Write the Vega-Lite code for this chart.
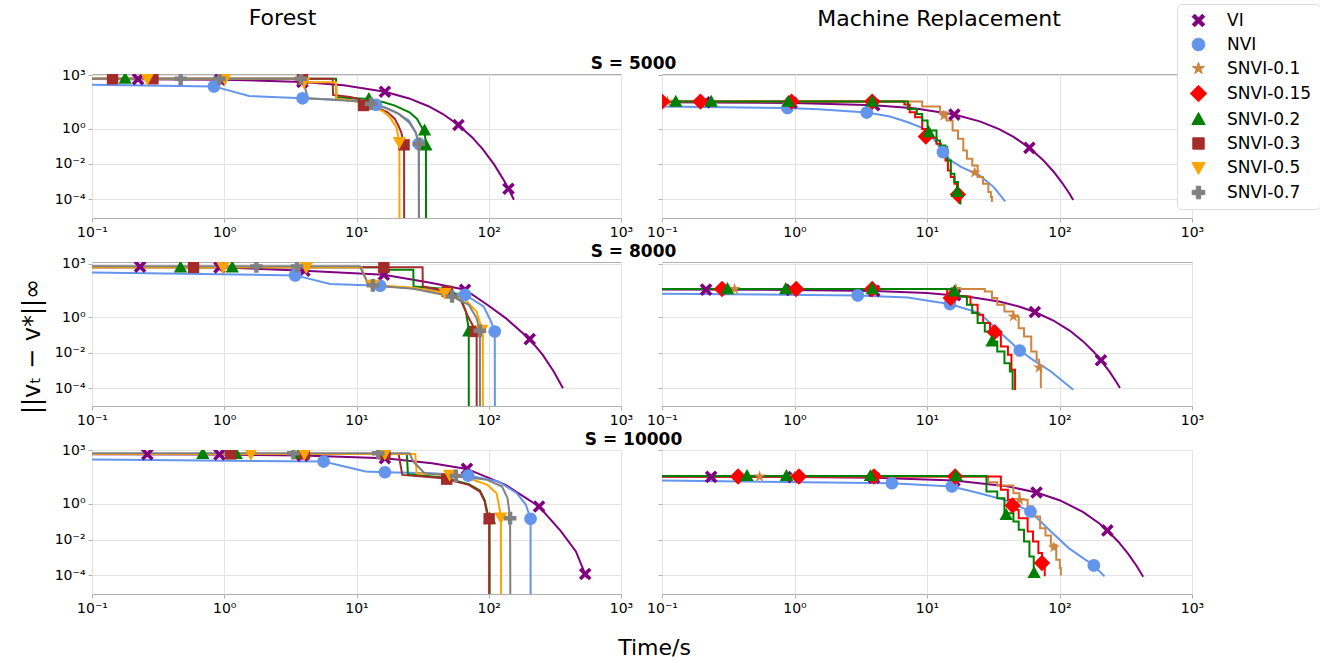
{
"$schema": "https://vega.github.io/schema/vega-lite/v6.json",
"padding": {"left": 19, "top": 3, "right": 0, "bottom": 3},
"config": {
  "font": "DejaVu Sans",
  "view": {"stroke": "#b0b0b0", "strokeWidth": 1},
  "axis": {"labelFont": "DejaVu Sans", "labelFontSize": 14, "labelColor": "#000000", "tickColor": "#b0b0b0", "tickSize": 4, "domain": false, "gridColor": "#e4e4e4", "gridWidth": 1, "labelFlush": false, "labelOverlap": false, "labelPadding": 3, "titleFont": "DejaVu Sans", "titleFontWeight": "normal", "titleColor": "#000000"},
  "legend": {"orient": "none", "legendX": 1085, "legendY": -70, "labelFont": "DejaVu Sans", "labelFontSize": 17, "labelColor": "#000000", "symbolSize": 160, "rowPadding": 6, "padding": 8, "strokeColor": "#dddddd", "fillColor": "#ffffff", "cornerRadius": 4, "symbolOffset": 5, "labelOffset": 20, "symbolStrokeWidth": 1},
  "title": {"font": "DejaVu Sans", "fontWeight": "normal", "color": "#000000"}
},
"datasets": {
"curves": [
{"panel":"F5","method":"VI","t":0.1,"v":631},{"panel":"F5","method":"VI","t":1,"v":575},{"panel":"F5","method":"VI","t":3.9,"v":427},{"panel":"F5","method":"VI","t":8,"v":282},{"panel":"F5","method":"VI","t":16.4,"v":120},{"panel":"F5","method":"VI","t":25,"v":50.1},{"panel":"F5","method":"VI","t":35,"v":18.2},{"panel":"F5","method":"VI","t":45,"v":6.61},{"panel":"F5","method":"VI","t":59,"v":1.58},{"panel":"F5","method":"VI","t":75,"v":0.316},{"panel":"F5","method":"VI","t":90,"v":0.0692},{"panel":"F5","method":"VI","t":110,"v":0.00912},{"panel":"F5","method":"VI","t":130,"v":0.0012},{"panel":"F5","method":"VI","t":141,"v":0.000398},{"panel":"F5","method":"VI","t":155,"v":0.0000955},
{"panel":"F5","method":"NVI","t":0.1,"v":302},{"panel":"F5","method":"NVI","t":0.836,"v":240},{"panel":"F5","method":"NVI","t":1.54,"v":69},{"panel":"F5","method":"NVI","t":3.91,"v":51},{"panel":"F5","method":"NVI","t":10,"v":38},{"panel":"F5","method":"NVI","t":15,"v":20},{"panel":"F5","method":"NVI","t":20,"v":8.3},{"panel":"F5","method":"NVI","t":25,"v":2.8},{"panel":"F5","method":"NVI","t":28,"v":0.63},{"panel":"F5","method":"NVI","t":29.6,"v":0.137},{"panel":"F5","method":"NVI","t":29.7,"v":1e-9},
{"panel":"F5","method":"SNVI-0.2","t":0.1,"v":650},{"panel":"F5","method":"SNVI-0.2","t":7.0,"v":650},{"panel":"F5","method":"SNVI-0.2","t":7.05,"v":58},{"panel":"F5","method":"SNVI-0.2","t":12.4,"v":46.9},{"panel":"F5","method":"SNVI-0.2","t":16.1,"v":30.5},{"panel":"F5","method":"SNVI-0.2","t":19.5,"v":19.8},{"panel":"F5","method":"SNVI-0.2","t":25.2,"v":8.3},{"panel":"F5","method":"SNVI-0.2","t":28.7,"v":3.5},{"panel":"F5","method":"SNVI-0.2","t":31.6,"v":0.96},{"panel":"F5","method":"SNVI-0.2","t":32.7,"v":0.77},{"panel":"F5","method":"SNVI-0.2","t":33.5,"v":0.11},{"panel":"F5","method":"SNVI-0.2","t":33.6,"v":1e-9},
{"panel":"F5","method":"SNVI-0.3","t":0.1,"v":650},{"panel":"F5","method":"SNVI-0.3","t":6.6,"v":650},{"panel":"F5","method":"SNVI-0.3","t":6.65,"v":79},{"panel":"F5","method":"SNVI-0.3","t":9,"v":60},{"panel":"F5","method":"SNVI-0.3","t":10.5,"v":45},{"panel":"F5","method":"SNVI-0.3","t":11.3,"v":20},{"panel":"F5","method":"SNVI-0.3","t":14.1,"v":15.9},{"panel":"F5","method":"SNVI-0.3","t":17.2,"v":8.3},{"panel":"F5","method":"SNVI-0.3","t":19.5,"v":3.5},{"panel":"F5","method":"SNVI-0.3","t":20.7,"v":1.48},{"panel":"F5","method":"SNVI-0.3","t":21.8,"v":0.62},{"panel":"F5","method":"SNVI-0.3","t":22.9,"v":0.12},{"panel":"F5","method":"SNVI-0.3","t":22.95,"v":1e-9},
{"panel":"F5","method":"SNVI-0.5","t":0.1,"v":650},{"panel":"F5","method":"SNVI-0.5","t":4.0,"v":650},{"panel":"F5","method":"SNVI-0.5","t":4.05,"v":407},{"panel":"F5","method":"SNVI-0.5","t":7.0,"v":407},{"panel":"F5","method":"SNVI-0.5","t":7.05,"v":46},{"panel":"F5","method":"SNVI-0.5","t":9,"v":40},{"panel":"F5","method":"SNVI-0.5","t":11,"v":28},{"panel":"F5","method":"SNVI-0.5","t":13,"v":18},{"panel":"F5","method":"SNVI-0.5","t":16,"v":9},{"panel":"F5","method":"SNVI-0.5","t":18,"v":4},{"panel":"F5","method":"SNVI-0.5","t":20,"v":1.2},{"panel":"F5","method":"SNVI-0.5","t":21.1,"v":0.17},{"panel":"F5","method":"SNVI-0.5","t":21.15,"v":1e-9},
{"panel":"F5","method":"SNVI-0.7","t":0.1,"v":650},{"panel":"F5","method":"SNVI-0.7","t":3.9,"v":650},{"panel":"F5","method":"SNVI-0.7","t":4.3,"v":51},{"panel":"F5","method":"SNVI-0.7","t":10,"v":35},{"panel":"F5","method":"SNVI-0.7","t":12.9,"v":25},{"panel":"F5","method":"SNVI-0.7","t":17,"v":14},{"panel":"F5","method":"SNVI-0.7","t":21,"v":6.5},{"panel":"F5","method":"SNVI-0.7","t":25,"v":2.2},{"panel":"F5","method":"SNVI-0.7","t":28,"v":0.6},{"panel":"F5","method":"SNVI-0.7","t":29.6,"v":0.137},{"panel":"F5","method":"SNVI-0.7","t":29.65,"v":1e-9},

{"panel":"M5","method":"VI","t":0.1,"v":30.6},{"panel":"M5","method":"VI","t":1,"v":28.0},{"panel":"M5","method":"VI","t":4,"v":20.7},{"panel":"M5","method":"VI","t":8,"v":13.9},{"panel":"M5","method":"VI","t":16.1,"v":6.17},{"panel":"M5","method":"VI","t":25,"v":2.53},{"panel":"M5","method":"VI","t":35,"v":0.928},{"panel":"M5","method":"VI","t":45,"v":0.341},{"panel":"M5","method":"VI","t":59.3,"v":0.0813},{"panel":"M5","method":"VI","t":75,"v":0.0169},{"panel":"M5","method":"VI","t":90,"v":0.00376},{"panel":"M5","method":"VI","t":105,"v":0.000837},{"panel":"M5","method":"VI","t":118,"v":0.000228},{"panel":"M5","method":"VI","t":127,"v":0.0000924},
{"panel":"M5","method":"NVI","t":0.1,"v":17.4},{"panel":"M5","method":"NVI","t":0.885,"v":14.6},{"panel":"M5","method":"NVI","t":1.52,"v":12.3},{"panel":"M5","method":"NVI","t":3.51,"v":7.97},{"panel":"M5","method":"NVI","t":5.26,"v":4.74},{"panel":"M5","method":"NVI","t":7.18,"v":2.27},{"panel":"M5","method":"NVI","t":9.2,"v":1.09},{"panel":"M5","method":"NVI","t":11.1,"v":0.298},{"panel":"M5","method":"NVI","t":13.2,"v":0.0464},{"panel":"M5","method":"NVI","t":15.1,"v":0.0158},{"panel":"M5","method":"NVI","t":18.2,"v":0.00663},{"panel":"M5","method":"NVI","t":24.9,"v":0.00225},{"panel":"M5","method":"NVI","t":31.9,"v":0.000495},{"panel":"M5","method":"NVI","t":38.9,"v":0.0000772},
{"panel":"M5","method":"SNVI-0.1","t":0.1,"v":33.2},{"panel":"M5","method":"SNVI-0.1","t":9.2,"v":17.4},{"panel":"M5","method":"SNVI-0.1","t":12.55,"v":8.32},{"panel":"M5","method":"SNVI-0.1","t":14.04,"v":2.82},{"panel":"M5","method":"SNVI-0.1","t":15.6,"v":0.772},{"panel":"M5","method":"SNVI-0.1","t":17.13,"v":0.262},{"panel":"M5","method":"SNVI-0.1","t":18.79,"v":0.0576},{"panel":"M5","method":"SNVI-0.1","t":20.0,"v":0.0196},{"panel":"M5","method":"SNVI-0.1","t":21.96,"v":0.00823},{"panel":"M5","method":"SNVI-0.1","t":24.1,"v":0.00181},{"panel":"M5","method":"SNVI-0.1","t":26.45,"v":0.000763},{"panel":"M5","method":"SNVI-0.1","t":29.04,"v":0.000259},{"panel":"M5","method":"SNVI-0.1","t":30.33,"v":0.000135},{"panel":"M5","method":"SNVI-0.1","t":30.9,"v":0.0000708},
{"panel":"M5","method":"SNVI-0.15","t":0.1,"v":33.2},{"panel":"M5","method":"SNVI-0.15","t":6.75,"v":22.5},{"panel":"M5","method":"SNVI-0.15","t":7.4,"v":8.32},{"panel":"M5","method":"SNVI-0.15","t":8.13,"v":4.35},{"panel":"M5","method":"SNVI-0.15","t":9.2,"v":0.958},{"panel":"M5","method":"SNVI-0.15","t":10.42,"v":0.298},{"panel":"M5","method":"SNVI-0.15","t":11.8,"v":0.137},{"panel":"M5","method":"SNVI-0.15","t":12.71,"v":0.0576},{"panel":"M5","method":"SNVI-0.15","t":13.78,"v":0.0157},{"panel":"M5","method":"SNVI-0.15","t":14.39,"v":0.0043},{"panel":"M5","method":"SNVI-0.15","t":15.12,"v":0.00181},{"panel":"M5","method":"SNVI-0.15","t":16.1,"v":0.000763},{"panel":"M5","method":"SNVI-0.15","t":16.81,"v":0.000259},{"panel":"M5","method":"SNVI-0.15","t":17.45,"v":0.000057},
{"panel":"M5","method":"SNVI-0.2","t":0.1,"v":33.2},{"panel":"M5","method":"SNVI-0.2","t":7.18,"v":12.8},{"panel":"M5","method":"SNVI-0.2","t":8.38,"v":6.7},{"panel":"M5","method":"SNVI-0.2","t":9.2,"v":2.82},{"panel":"M5","method":"SNVI-0.2","t":10.1,"v":0.772},{"panel":"M5","method":"SNVI-0.2","t":11.8,"v":0.211},{"panel":"M5","method":"SNVI-0.2","t":12.55,"v":0.11},{"panel":"M5","method":"SNVI-0.2","t":13.78,"v":0.0888},{"panel":"M5","method":"SNVI-0.2","t":14.21,"v":0.0157},{"panel":"M5","method":"SNVI-0.2","t":15.12,"v":0.00279},{"panel":"M5","method":"SNVI-0.2","t":16.1,"v":0.000947},{"panel":"M5","method":"SNVI-0.2","t":17.13,"v":0.000321},{"panel":"M5","method":"SNVI-0.2","t":17.89,"v":0.000052},

{"panel":"F8","method":"VI","t":0.1,"v":685},{"panel":"F8","method":"VI","t":0.92,"v":629},{"panel":"F8","method":"VI","t":4.04,"v":408},{"panel":"F8","method":"VI","t":16.1,"v":243},{"panel":"F8","method":"VI","t":37.2,"v":82.3},{"panel":"F8","method":"VI","t":66.2,"v":34.7},{"panel":"F8","method":"VI","t":97.5,"v":4.95},{"panel":"F8","method":"VI","t":134.3,"v":0.878},{"panel":"F8","method":"VI","t":204,"v":0.0576},{"panel":"F8","method":"VI","t":255.9,"v":0.00755},{"panel":"F8","method":"VI","t":310,"v":0.000869},{"panel":"F8","method":"VI","t":364,"v":0.0001},
{"panel":"F8","method":"NVI","t":0.1,"v":328},{"panel":"F8","method":"NVI","t":3.44,"v":222},{"panel":"F8","method":"NVI","t":6.34,"v":72.3},{"panel":"F8","method":"NVI","t":15.1,"v":58.2},{"panel":"F8","method":"NVI","t":37.2,"v":34.7},{"panel":"F8","method":"NVI","t":66.2,"v":18.1},{"panel":"F8","method":"NVI","t":91.4,"v":3.99},{"panel":"F8","method":"NVI","t":104,"v":0.57},{"panel":"F8","method":"NVI","t":111,"v":0.156},{"panel":"F8","method":"NVI","t":111.5,"v":1e-9},
{"panel":"F8","method":"SNVI-0.2","t":0.1,"v":629},{"panel":"F8","method":"SNVI-0.2","t":15.1,"v":629},{"panel":"F8","method":"SNVI-0.2","t":15.2,"v":464},{"panel":"F8","method":"SNVI-0.2","t":26.9,"v":464},{"panel":"F8","method":"SNVI-0.2","t":27.0,"v":53.4},{"panel":"F8","method":"SNVI-0.2","t":45.1,"v":39.4},{"panel":"F8","method":"SNVI-0.2","t":54.6,"v":22.5},{"panel":"F8","method":"SNVI-0.2","t":62.1,"v":9.48},{"panel":"F8","method":"SNVI-0.2","t":67.1,"v":2.08},{"panel":"F8","method":"SNVI-0.2","t":69.8,"v":0.37},{"panel":"F8","method":"SNVI-0.2","t":70.6,"v":0.156},{"panel":"F8","method":"SNVI-0.2","t":70.7,"v":1e-9},
{"panel":"F8","method":"SNVI-0.3","t":0.1,"v":629},{"panel":"F8","method":"SNVI-0.3","t":31.6,"v":629},{"panel":"F8","method":"SNVI-0.3","t":31.7,"v":53.4},{"panel":"F8","method":"SNVI-0.3","t":48.6,"v":27.9},{"panel":"F8","method":"SNVI-0.3","t":62.1,"v":7.6},{"panel":"F8","method":"SNVI-0.3","t":70.6,"v":0.88},{"panel":"F8","method":"SNVI-0.3","t":77.7,"v":0.24},{"panel":"F8","method":"SNVI-0.3","t":81.0,"v":0.156},{"panel":"F8","method":"SNVI-0.3","t":81.1,"v":1e-9},
{"panel":"F8","method":"SNVI-0.5","t":0.1,"v":629},{"panel":"F8","method":"SNVI-0.5","t":10.9,"v":629},{"panel":"F8","method":"SNVI-0.5","t":12.2,"v":66},{"panel":"F8","method":"SNVI-0.5","t":26.9,"v":45},{"panel":"F8","method":"SNVI-0.5","t":46.6,"v":22.5},{"panel":"F8","method":"SNVI-0.5","t":66.2,"v":9.5},{"panel":"F8","method":"SNVI-0.5","t":80.8,"v":2.09},{"panel":"F8","method":"SNVI-0.5","t":86.8,"v":0.37},{"panel":"F8","method":"SNVI-0.5","t":88.5,"v":0.193},{"panel":"F8","method":"SNVI-0.5","t":90.2,"v":0.15},{"panel":"F8","method":"SNVI-0.5","t":90.3,"v":1e-9},
{"panel":"F8","method":"SNVI-0.7","t":0.1,"v":715},{"panel":"F8","method":"SNVI-0.7","t":10.6,"v":715},{"panel":"F8","method":"SNVI-0.7","t":12.4,"v":60.8},{"panel":"F8","method":"SNVI-0.7","t":26.9,"v":39.5},{"panel":"F8","method":"SNVI-0.7","t":52.8,"v":14.6},{"panel":"F8","method":"SNVI-0.7","t":70.6,"v":4.95},{"panel":"F8","method":"SNVI-0.7","t":80.8,"v":0.88},{"panel":"F8","method":"SNVI-0.7","t":85.7,"v":0.17},{"panel":"F8","method":"SNVI-0.7","t":86.0,"v":1e-9},

{"panel":"M8","method":"VI","t":0.1,"v":35.3},{"panel":"M8","method":"VI","t":1,"v":33.9},{"panel":"M8","method":"VI","t":4,"v":29.7},{"panel":"M8","method":"VI","t":10,"v":22.7},{"panel":"M8","method":"VI","t":20,"v":14.6},{"panel":"M8","method":"VI","t":35,"v":7.46},{"panel":"M8","method":"VI","t":50,"v":3.83},{"panel":"M8","method":"VI","t":65.2,"v":1.94},{"panel":"M8","method":"VI","t":90,"v":0.643},{"panel":"M8","method":"VI","t":120,"v":0.169},{"panel":"M8","method":"VI","t":150,"v":0.0444},{"panel":"M8","method":"VI","t":180,"v":0.0117},{"panel":"M8","method":"VI","t":205.6,"v":0.00373},{"panel":"M8","method":"VI","t":240,"v":0.000805},{"panel":"M8","method":"VI","t":270,"v":0.000211},{"panel":"M8","method":"VI","t":286,"v":0.000104},
{"panel":"M8","method":"NVI","t":0.1,"v":20.6},{"panel":"M8","method":"NVI","t":3.0,"v":16.6},{"panel":"M8","method":"NVI","t":7.18,"v":12.8},{"panel":"M8","method":"NVI","t":11.1,"v":7.63},{"panel":"M8","method":"NVI","t":14.9,"v":5.4},{"panel":"M8","method":"NVI","t":24.9,"v":1.68},{"panel":"M8","method":"NVI","t":33.9,"v":0.193},{"panel":"M8","method":"NVI","t":50.1,"v":0.0132},{"panel":"M8","method":"NVI","t":63.1,"v":0.00394},{"panel":"M8","method":"NVI","t":86.1,"v":0.00087},{"panel":"M8","method":"NVI","t":127,"v":0.000081},
{"panel":"M8","method":"SNVI-0.1","t":0.1,"v":37.8},{"panel":"M8","method":"SNVI-0.1","t":27.3,"v":27.9},{"panel":"M8","method":"SNVI-0.1","t":30.9,"v":11.8},{"panel":"M8","method":"SNVI-0.1","t":33.9,"v":4.95},{"panel":"M8","method":"SNVI-0.1","t":38.4,"v":2.09},{"panel":"M8","method":"SNVI-0.1","t":44.9,"v":1.09},{"panel":"M8","method":"SNVI-0.1","t":49.2,"v":0.24},{"panel":"M8","method":"SNVI-0.1","t":54.0,"v":0.0814},{"panel":"M8","method":"SNVI-0.1","t":61.2,"v":0.0116},{"panel":"M8","method":"SNVI-0.1","t":67.2,"v":0.00394},{"panel":"M8","method":"SNVI-0.1","t":70.2,"v":0.00146},{"panel":"M8","method":"SNVI-0.1","t":72.3,"v":0.0001},
{"panel":"M8","method":"SNVI-0.15","t":0.1,"v":37.8},{"panel":"M8","method":"SNVI-0.15","t":14.2,"v":14.6},{"panel":"M8","method":"SNVI-0.15","t":21.3,"v":4.95},{"panel":"M8","method":"SNVI-0.15","t":24.1,"v":1.35},{"panel":"M8","method":"SNVI-0.15","t":26.5,"v":0.459},{"panel":"M8","method":"SNVI-0.15","t":29.9,"v":0.193},{"panel":"M8","method":"SNVI-0.15","t":33.9,"v":0.101},{"panel":"M8","method":"SNVI-0.15","t":36.1,"v":0.0222},{"panel":"M8","method":"SNVI-0.15","t":40.8,"v":0.00755},{"panel":"M8","method":"SNVI-0.15","t":43.4,"v":0.00108},{"panel":"M8","method":"SNVI-0.15","t":46.2,"v":0.0000805},
{"panel":"M8","method":"SNVI-0.2","t":0.1,"v":37.8},{"panel":"M8","method":"SNVI-0.2","t":17.1,"v":14.6},{"panel":"M8","method":"SNVI-0.2","t":20.0,"v":4.95},{"panel":"M8","method":"SNVI-0.2","t":21.96,"v":1.68},{"panel":"M8","method":"SNVI-0.2","t":24.1,"v":0.459},{"panel":"M8","method":"SNVI-0.2","t":27.3,"v":0.156},{"panel":"M8","method":"SNVI-0.2","t":30.9,"v":0.0426},{"panel":"M8","method":"SNVI-0.2","t":33.9,"v":0.0116},{"panel":"M8","method":"SNVI-0.2","t":38.4,"v":0.00256},{"panel":"M8","method":"SNVI-0.2","t":42.2,"v":0.00087},{"panel":"M8","method":"SNVI-0.2","t":44.3,"v":0.0000805},

{"panel":"F10","method":"VI","t":0.1,"v":592},{"panel":"F10","method":"VI","t":0.92,"v":580},{"panel":"F10","method":"VI","t":3.91,"v":499},{"panel":"F10","method":"VI","t":16.4,"v":354},{"panel":"F10","method":"VI","t":37.2,"v":186},{"panel":"F10","method":"VI","t":68.4,"v":89.8},{"panel":"F10","method":"VI","t":134,"v":11.5},{"panel":"F10","method":"VI","t":240,"v":0.71},{"panel":"F10","method":"VI","t":352,"v":0.0286},{"panel":"F10","method":"VI","t":456,"v":0.00219},{"panel":"F10","method":"VI","t":536,"v":0.000119},{"panel":"F10","method":"VI","t":553,"v":0.000071},
{"panel":"F10","method":"NVI","t":0.1,"v":298},{"panel":"F10","method":"NVI","t":5.64,"v":231},{"panel":"F10","method":"NVI","t":11.7,"v":63.8},{"panel":"F10","method":"NVI","t":16.4,"v":58.5},{"panel":"F10","method":"NVI","t":37.2,"v":51.5},{"panel":"F10","method":"NVI","t":69.8,"v":38.1},{"panel":"F10","method":"NVI","t":118,"v":17.6},{"panel":"F10","method":"NVI","t":163,"v":3.94},{"panel":"F10","method":"NVI","t":191,"v":0.879},{"panel":"F10","method":"NVI","t":207,"v":0.146},{"panel":"F10","method":"NVI","t":207.5,"v":1e-9},
{"panel":"F10","method":"SNVI-0.2","t":0.1,"v":620},{"panel":"F10","method":"SNVI-0.2","t":24,"v":620},{"panel":"F10","method":"SNVI-0.2","t":24.5,"v":45},{"panel":"F10","method":"SNVI-0.2","t":45.1,"v":30},{"panel":"F10","method":"SNVI-0.2","t":70.6,"v":12.5},{"panel":"F10","method":"SNVI-0.2","t":85.7,"v":5.5},{"panel":"F10","method":"SNVI-0.2","t":93.2,"v":1.6},{"panel":"F10","method":"SNVI-0.2","t":98.5,"v":0.25},{"panel":"F10","method":"SNVI-0.2","t":101.5,"v":0.146},{"panel":"F10","method":"SNVI-0.2","t":101.6,"v":1e-9},
{"panel":"F10","method":"SNVI-0.3","t":0.1,"v":620},{"panel":"F10","method":"SNVI-0.3","t":20.8,"v":620},{"panel":"F10","method":"SNVI-0.3","t":22.2,"v":41.6},{"panel":"F10","method":"SNVI-0.3","t":45.1,"v":27.1},{"panel":"F10","method":"SNVI-0.3","t":70.6,"v":11.5},{"panel":"F10","method":"SNVI-0.3","t":85.7,"v":4.88},{"panel":"F10","method":"SNVI-0.3","t":93.2,"v":1.35},{"panel":"F10","method":"SNVI-0.3","t":97.5,"v":0.243},{"panel":"F10","method":"SNVI-0.3","t":100.7,"v":0.146},{"panel":"F10","method":"SNVI-0.3","t":100.8,"v":1e-9},
{"panel":"F10","method":"SNVI-0.5","t":0.1,"v":620},{"panel":"F10","method":"SNVI-0.5","t":27.8,"v":620},{"panel":"F10","method":"SNVI-0.5","t":28.5,"v":51.5},{"panel":"F10","method":"SNVI-0.5","t":50.6,"v":41.6},{"panel":"F10","method":"SNVI-0.5","t":70.6,"v":27.1},{"panel":"F10","method":"SNVI-0.5","t":97.5,"v":11.5},{"panel":"F10","method":"SNVI-0.5","t":114.6,"v":3.94},{"panel":"F10","method":"SNVI-0.5","t":120.5,"v":0.573},{"panel":"F10","method":"SNVI-0.5","t":123.6,"v":0.173},{"panel":"F10","method":"SNVI-0.5","t":124.2,"v":1e-9},
{"panel":"F10","method":"SNVI-0.7","t":0.1,"v":671},{"panel":"F10","method":"SNVI-0.7","t":25.2,"v":671},{"panel":"F10","method":"SNVI-0.7","t":26.9,"v":231},{"panel":"F10","method":"SNVI-0.7","t":32.7,"v":51.5},{"panel":"F10","method":"SNVI-0.7","t":56.4,"v":36.5},{"panel":"F10","method":"SNVI-0.7","t":97.5,"v":21.9},{"panel":"F10","method":"SNVI-0.7","t":126,"v":9.3},{"panel":"F10","method":"SNVI-0.7","t":138.6,"v":2.07},{"panel":"F10","method":"SNVI-0.7","t":143,"v":0.373},{"panel":"F10","method":"SNVI-0.7","t":145,"v":0.158},{"panel":"F10","method":"SNVI-0.7","t":146,"v":1e-9},

{"panel":"M10","method":"VI","t":0.1,"v":32.3},{"panel":"M10","method":"VI","t":1,"v":31.4},{"panel":"M10","method":"VI","t":4,"v":28.7},{"panel":"M10","method":"VI","t":16.1,"v":19.95},{"panel":"M10","method":"VI","t":40,"v":9.73},{"panel":"M10","method":"VI","t":67.1,"v":4.31},{"panel":"M10","method":"VI","t":100,"v":1.6},{"panel":"M10","method":"VI","t":150,"v":0.357},{"panel":"M10","method":"VI","t":200,"v":0.0794},{"panel":"M10","method":"VI","t":229.6,"v":0.0326},{"panel":"M10","method":"VI","t":280,"v":0.00718},{"panel":"M10","method":"VI","t":330,"v":0.0016},{"panel":"M10","method":"VI","t":380,"v":0.000356},{"panel":"M10","method":"VI","t":428,"v":0.000084},
{"panel":"M10","method":"NVI","t":0.1,"v":20.1},{"panel":"M10","method":"NVI","t":5.43,"v":14.2},{"panel":"M10","method":"NVI","t":15.4,"v":9.28},{"panel":"M10","method":"NVI","t":24.9,"v":3.94},{"panel":"M10","method":"NVI","t":38.4,"v":1.67},{"panel":"M10","method":"NVI","t":60.4,"v":0.373},{"panel":"M10","method":"NVI","t":86.1,"v":0.0286},{"panel":"M10","method":"NVI","t":117.4,"v":0.00335},{"panel":"M10","method":"NVI","t":181.5,"v":0.00036},{"panel":"M10","method":"NVI","t":218.6,"v":0.000088},
{"panel":"M10","method":"SNVI-0.1","t":0.1,"v":33.6},{"panel":"M10","method":"SNVI-0.1","t":29.0,"v":16.2},{"panel":"M10","method":"SNVI-0.1","t":33.9,"v":10.5},{"panel":"M10","method":"SNVI-0.1","t":44.9,"v":3.94},{"panel":"M10","method":"SNVI-0.1","t":49.9,"v":1.67},{"panel":"M10","method":"SNVI-0.1","t":57.5,"v":0.71},{"panel":"M10","method":"SNVI-0.1","t":63.1,"v":0.196},{"panel":"M10","method":"SNVI-0.1","t":71.4,"v":0.0438},{"panel":"M10","method":"SNVI-0.1","t":78.4,"v":0.0171},{"panel":"M10","method":"SNVI-0.1","t":86.1,"v":0.00515},{"panel":"M10","method":"SNVI-0.1","t":94.5,"v":0.000748},{"panel":"M10","method":"SNVI-0.1","t":100.6,"v":0.000256},{"panel":"M10","method":"SNVI-0.1","t":102.4,"v":0.0001},
{"panel":"M10","method":"SNVI-0.15","t":0.1,"v":33.6},{"panel":"M10","method":"SNVI-0.15","t":36.1,"v":6.04},{"panel":"M10","method":"SNVI-0.15","t":40.8,"v":1.67},{"panel":"M10","method":"SNVI-0.15","t":44.9,"v":0.463},{"panel":"M10","method":"SNVI-0.15","t":49.2,"v":0.158},{"panel":"M10","method":"SNVI-0.15","t":57.5,"v":0.0286},{"panel":"M10","method":"SNVI-0.15","t":63.1,"v":0.0079},{"panel":"M10","method":"SNVI-0.15","t":69.3,"v":0.00177},{"panel":"M10","method":"SNVI-0.15","t":73.8,"v":0.000394},{"panel":"M10","method":"SNVI-0.15","t":77.4,"v":0.000088},
{"panel":"M10","method":"SNVI-0.2","t":0.1,"v":36},{"panel":"M10","method":"SNVI-0.2","t":28.1,"v":4.88},{"panel":"M10","method":"SNVI-0.2","t":33.9,"v":2.07},{"panel":"M10","method":"SNVI-0.2","t":38.4,"v":0.301},{"panel":"M10","method":"SNVI-0.2","t":44.9,"v":0.103},{"panel":"M10","method":"SNVI-0.2","t":49.2,"v":0.0354},{"panel":"M10","method":"SNVI-0.2","t":54.0,"v":0.0079},{"panel":"M10","method":"SNVI-0.2","t":59.3,"v":0.00115},{"panel":"M10","method":"SNVI-0.2","t":63.9,"v":0.000088}
],
"markers": [
{"panel":"F5","method":"VI","t":0.223,"v":617},{"panel":"F5","method":"VI","t":0.93,"v":575},{"panel":"F5","method":"VI","t":3.9,"v":427},{"panel":"F5","method":"VI","t":16.4,"v":120},{"panel":"F5","method":"VI","t":59,"v":1.58},{"panel":"F5","method":"VI","t":141,"v":0.000398},
{"panel":"F5","method":"NVI","t":0.836,"v":240},{"panel":"F5","method":"NVI","t":3.91,"v":51},{"panel":"F5","method":"NVI","t":14,"v":22},{"panel":"F5","method":"NVI","t":29.6,"v":0.137},
{"panel":"F5","method":"SNVI-0.2","t":0.178,"v":650},{"panel":"F5","method":"SNVI-0.2","t":12.4,"v":46.9},{"panel":"F5","method":"SNVI-0.2","t":32.7,"v":0.77},{"panel":"F5","method":"SNVI-0.2","t":33.5,"v":0.11},
{"panel":"F5","method":"SNVI-0.3","t":0.143,"v":650},{"panel":"F5","method":"SNVI-0.3","t":0.289,"v":650},{"panel":"F5","method":"SNVI-0.3","t":3.9,"v":650},{"panel":"F5","method":"SNVI-0.3","t":11.3,"v":20},{"panel":"F5","method":"SNVI-0.3","t":22.9,"v":0.12},
{"panel":"F5","method":"SNVI-0.5","t":0.262,"v":650},{"panel":"F5","method":"SNVI-0.5","t":1.01,"v":650},{"panel":"F5","method":"SNVI-0.5","t":4.0,"v":407},{"panel":"F5","method":"SNVI-0.5","t":21.1,"v":0.17},
{"panel":"F5","method":"SNVI-0.7","t":0.468,"v":650},{"panel":"F5","method":"SNVI-0.7","t":0.92,"v":650},{"panel":"F5","method":"SNVI-0.7","t":3.8,"v":650},{"panel":"F5","method":"SNVI-0.7","t":12.9,"v":25},{"panel":"F5","method":"SNVI-0.7","t":29.6,"v":0.137},

{"panel":"M5","method":"VI","t":0.21,"v":30.3},{"panel":"M5","method":"VI","t":0.95,"v":28.1},{"panel":"M5","method":"VI","t":4,"v":20.7},{"panel":"M5","method":"VI","t":16.1,"v":6.17},{"panel":"M5","method":"VI","t":59.3,"v":0.0813},
{"panel":"M5","method":"NVI","t":0.885,"v":14.6},{"panel":"M5","method":"NVI","t":3.51,"v":7.97},{"panel":"M5","method":"NVI","t":13.2,"v":0.0464},
{"panel":"M5","method":"SNVI-0.1","t":0.11,"v":33.2},{"panel":"M5","method":"SNVI-0.1","t":13.4,"v":5.4},{"panel":"M5","method":"SNVI-0.1","t":22.9,"v":0.0033},
{"panel":"M5","method":"SNVI-0.15","t":0.1,"v":33.2},{"panel":"M5","method":"SNVI-0.15","t":0.195,"v":33.2},{"panel":"M5","method":"SNVI-0.15","t":0.95,"v":33.2},{"panel":"M5","method":"SNVI-0.15","t":3.86,"v":33.2},{"panel":"M5","method":"SNVI-0.15","t":9.8,"v":0.354},{"panel":"M5","method":"SNVI-0.15","t":17.1,"v":0.00019},
{"panel":"M5","method":"SNVI-0.2","t":0.127,"v":33.2},{"panel":"M5","method":"SNVI-0.2","t":0.235,"v":33.2},{"panel":"M5","method":"SNVI-0.2","t":0.9,"v":33.2},{"panel":"M5","method":"SNVI-0.2","t":3.86,"v":33.2},{"panel":"M5","method":"SNVI-0.2","t":10.29,"v":0.62},{"panel":"M5","method":"SNVI-0.2","t":16.91,"v":0.00026},

{"panel":"F8","method":"VI","t":0.231,"v":685},{"panel":"F8","method":"VI","t":0.92,"v":629},{"panel":"F8","method":"VI","t":4.04,"v":408},{"panel":"F8","method":"VI","t":16.1,"v":243},{"panel":"F8","method":"VI","t":66.2,"v":34.7},{"panel":"F8","method":"VI","t":204,"v":0.0576},
{"panel":"F8","method":"NVI","t":3.44,"v":222},{"panel":"F8","method":"NVI","t":15.1,"v":58.2},{"panel":"F8","method":"NVI","t":66.2,"v":18.1},{"panel":"F8","method":"NVI","t":111,"v":0.156},
{"panel":"F8","method":"SNVI-0.2","t":0.467,"v":629},{"panel":"F8","method":"SNVI-0.2","t":1.15,"v":629},{"panel":"F8","method":"SNVI-0.2","t":70.6,"v":0.156},
{"panel":"F8","method":"SNVI-0.3","t":0.586,"v":629},{"panel":"F8","method":"SNVI-0.3","t":16.1,"v":629},{"panel":"F8","method":"SNVI-0.3","t":48.6,"v":27.9},{"panel":"F8","method":"SNVI-0.3","t":79.2,"v":0.156},
{"panel":"F8","method":"SNVI-0.5","t":0.98,"v":629},{"panel":"F8","method":"SNVI-0.5","t":4.17,"v":629},{"panel":"F8","method":"SNVI-0.5","t":13.3,"v":66.3},{"panel":"F8","method":"SNVI-0.5","t":46.6,"v":22.5},{"panel":"F8","method":"SNVI-0.5","t":88.5,"v":0.193},
{"panel":"F8","method":"SNVI-0.7","t":1.75,"v":715},{"panel":"F8","method":"SNVI-0.7","t":3.55,"v":715},{"panel":"F8","method":"SNVI-0.7","t":13.3,"v":60.8},{"panel":"F8","method":"SNVI-0.7","t":52.8,"v":14.6},{"panel":"F8","method":"SNVI-0.7","t":85.7,"v":0.17},

{"panel":"M8","method":"VI","t":0.215,"v":35.1},{"panel":"M8","method":"VI","t":0.95,"v":33.9},{"panel":"M8","method":"VI","t":4,"v":29.7},{"panel":"M8","method":"VI","t":16.3,"v":17.2},{"panel":"M8","method":"VI","t":65.2,"v":1.94},{"panel":"M8","method":"VI","t":205.6,"v":0.00373},
{"panel":"M8","method":"NVI","t":3.0,"v":16.6},{"panel":"M8","method":"NVI","t":14.9,"v":5.4},{"panel":"M8","method":"NVI","t":50.1,"v":0.0132},
{"panel":"M8","method":"SNVI-0.1","t":0.353,"v":37.8},{"panel":"M8","method":"SNVI-0.1","t":1.0,"v":37.8},{"panel":"M8","method":"SNVI-0.1","t":4.0,"v":37.8},{"panel":"M8","method":"SNVI-0.1","t":16.5,"v":37.8},{"panel":"M8","method":"SNVI-0.1","t":44.9,"v":1.09},{"panel":"M8","method":"SNVI-0.1","t":70.1,"v":0.00146},
{"panel":"M8","method":"SNVI-0.15","t":0.284,"v":37.8},{"panel":"M8","method":"SNVI-0.15","t":1.03,"v":37.8},{"panel":"M8","method":"SNVI-0.15","t":3.86,"v":37.8},{"panel":"M8","method":"SNVI-0.15","t":15.1,"v":11.8},{"panel":"M8","method":"SNVI-0.15","t":32.4,"v":0.143},
{"panel":"M8","method":"SNVI-0.2","t":0.312,"v":37.8},{"panel":"M8","method":"SNVI-0.2","t":0.858,"v":37.8},{"panel":"M8","method":"SNVI-0.2","t":3.86,"v":37.8},{"panel":"M8","method":"SNVI-0.2","t":16.1,"v":27.9},{"panel":"M8","method":"SNVI-0.2","t":30.9,"v":0.0426},

{"panel":"F10","method":"VI","t":0.262,"v":592},{"panel":"F10","method":"VI","t":0.92,"v":580},{"panel":"F10","method":"VI","t":3.91,"v":499},{"panel":"F10","method":"VI","t":16.4,"v":354},{"panel":"F10","method":"VI","t":68.4,"v":89.8},{"panel":"F10","method":"VI","t":240,"v":0.71},{"panel":"F10","method":"VI","t":536,"v":0.000119},
{"panel":"F10","method":"NVI","t":5.64,"v":231},{"panel":"F10","method":"NVI","t":16.4,"v":58.5},{"panel":"F10","method":"NVI","t":69.8,"v":38.1},{"panel":"F10","method":"NVI","t":207,"v":0.146},
{"panel":"F10","method":"SNVI-0.2","t":0.689,"v":620},{"panel":"F10","method":"SNVI-0.2","t":1.23,"v":620},{"panel":"F10","method":"SNVI-0.2","t":3.67,"v":620},{"panel":"F10","method":"SNVI-0.2","t":16.1,"v":620},{"panel":"F10","method":"SNVI-0.2","t":101.5,"v":0.146},
{"panel":"F10","method":"SNVI-0.3","t":1.12,"v":620},{"panel":"F10","method":"SNVI-0.3","t":4.04,"v":620},{"panel":"F10","method":"SNVI-0.3","t":16.4,"v":620},{"panel":"F10","method":"SNVI-0.3","t":48.1,"v":24},{"panel":"F10","method":"SNVI-0.3","t":100.7,"v":0.146},
{"panel":"F10","method":"SNVI-0.5","t":1.59,"v":620},{"panel":"F10","method":"SNVI-0.5","t":4.04,"v":620},{"panel":"F10","method":"SNVI-0.5","t":16.4,"v":640},{"panel":"F10","method":"SNVI-0.5","t":50.6,"v":41.6},{"panel":"F10","method":"SNVI-0.5","t":123.6,"v":0.173},
{"panel":"F10","method":"SNVI-0.7","t":3.33,"v":671},{"panel":"F10","method":"SNVI-0.7","t":14.6,"v":671},{"panel":"F10","method":"SNVI-0.7","t":56.4,"v":36.5},{"panel":"F10","method":"SNVI-0.7","t":145,"v":0.158},

{"panel":"M10","method":"VI","t":0.235,"v":32.2},{"panel":"M10","method":"VI","t":0.98,"v":31.4},{"panel":"M10","method":"VI","t":3.98,"v":28.7},{"panel":"M10","method":"VI","t":16.1,"v":19.95},{"panel":"M10","method":"VI","t":67.1,"v":4.31},{"panel":"M10","method":"VI","t":229.6,"v":0.0326},
{"panel":"M10","method":"NVI","t":5.43,"v":14.2},{"panel":"M10","method":"NVI","t":15.4,"v":9.28},{"panel":"M10","method":"NVI","t":60.4,"v":0.373},{"panel":"M10","method":"NVI","t":181.5,"v":0.00036},
{"panel":"M10","method":"SNVI-0.1","t":0.545,"v":33.6},{"panel":"M10","method":"SNVI-0.1","t":1.0,"v":33.6},{"panel":"M10","method":"SNVI-0.1","t":4.0,"v":33.6},{"panel":"M10","method":"SNVI-0.1","t":16.3,"v":33.6},{"panel":"M10","method":"SNVI-0.1","t":49.9,"v":1.67},{"panel":"M10","method":"SNVI-0.1","t":90.6,"v":0.00366},
{"panel":"M10","method":"SNVI-0.15","t":0.375,"v":33.6},{"panel":"M10","method":"SNVI-0.15","t":1.08,"v":33.6},{"panel":"M10","method":"SNVI-0.15","t":3.98,"v":33.6},{"panel":"M10","method":"SNVI-0.15","t":16.3,"v":33.6},{"panel":"M10","method":"SNVI-0.15","t":44.3,"v":0.807},{"panel":"M10","method":"SNVI-0.15","t":73.8,"v":0.000488},
{"panel":"M10","method":"SNVI-0.2","t":0.438,"v":36},{"panel":"M10","method":"SNVI-0.2","t":0.869,"v":36},{"panel":"M10","method":"SNVI-0.2","t":3.74,"v":36},{"panel":"M10","method":"SNVI-0.2","t":16.6,"v":36},{"panel":"M10","method":"SNVI-0.2","t":39.6,"v":0.243},{"panel":"M10","method":"SNVI-0.2","t":64.3,"v":0.000135}
]
},
"columns": 2,
"spacing": {"row": 44, "column": 41},
"bounds": "flush",
"concat": [
{
 "width": 529, "height": 144,
 "title": {"text": "Forest", "fontSize": 22, "frame": "group", "anchor": "middle", "dx": -74, "offset": 24},
 "encoding": {
  "x": {"field": "t", "type": "quantitative", "scale": {"type": "log", "domain": [0.1, 1000], "nice": false}, "axis": {"orient": "bottom", "values": [0.1, 1, 10, 100, 1000], "labelExpr": "'10' + ['⁻⁵','⁻⁴','⁻³','⁻²','⁻¹','⁰','¹','²','³'][round(log(datum.value)/LN10)+5]", "title": null}},
  "y": {"field": "v", "type": "quantitative", "scale": {"type": "log", "domain": [8.9e-6, 1202], "nice": false}, "axis": {"values": [1000, 1, 0.01, 0.0001], "labelExpr": "'10' + ['⁻⁵','⁻⁴','⁻³','⁻²','⁻¹','⁰','¹','²','³'][round(log(datum.value)/LN10)+5]", "title": null}},
  "color": {"field": "method", "type": "nominal", "scale": {"domain": ["VI","NVI","SNVI-0.1","SNVI-0.15","SNVI-0.2","SNVI-0.3","SNVI-0.5","SNVI-0.7"], "range": ["#800080","#6495ED","#CD853F","#FF0000","#008000","#A52A2A","#FFA500","#808080"]}, "legend": {"title": null}}
 },
 "layer": [
  {"data": {"name": "curves"}, "transform": [{"filter": "datum.panel === 'F5'"}], "mark": {"type": "line", "strokeWidth": 2, "clip": true}},
  {"data": {"name": "markers"}, "transform": [{"filter": "datum.panel === 'F5'"}], "mark": {"type": "point", "filled": true, "opacity": 1, "size": 160, "clip": true},
   "encoding": {
    "x": {"field": "t", "type": "quantitative", "scale": {"type": "log", "domain": [0.1, 1000], "nice": false}, "axis": {"orient": "top", "title": "S = 5000", "labels": false, "ticks": false, "domain": false, "grid": false, "titleX": 541, "titleY": -6, "titleFontSize": 17, "titleFontWeight": "bold", "titleAlign": "center", "titleBaseline": "alphabetic"}},
    "shape": {"field": "method", "type": "nominal", "scale": {"domain": ["VI","NVI","SNVI-0.1","SNVI-0.15","SNVI-0.2","SNVI-0.3","SNVI-0.5","SNVI-0.7"], "range": ["M-1,-0.6L-0.6,-1L0,-0.4L0.6,-1L1,-0.6L0.4,0L1,0.6L0.6,1L0,0.4L-0.6,1L-1,0.6L-0.4,0Z","M1,0A1,1,0,1,1,-1,0A1,1,0,1,1,1,0Z","M0,-1L0.225,-0.309L0.951,-0.309L0.363,0.118L0.588,0.809L0,0.382L-0.588,0.809L-0.363,0.118L-0.951,-0.309L-0.225,-0.309Z","M0,-1.3L1.3,0L0,1.3L-1.3,0Z","M0,-1.1L1.05,0.8L-1.05,0.8Z","M-0.9,-0.9H0.9V0.9H-0.9Z","M0,1.1L1.05,-0.8L-1.05,-0.8Z","M-0.35,-1H0.35V-0.35H1V0.35H0.35V1H-0.35V0.35H-1V-0.35H-0.35Z"]}, "legend": {"title": null}}
   }}
 ]
},
{
 "width": 530, "height": 144,
 "title": {"text": "Machine Replacement", "fontSize": 22, "frame": "group", "anchor": "middle", "dx": 12, "offset": 43},
 "encoding": {
  "x": {"field": "t", "type": "quantitative", "scale": {"type": "log", "domain": [0.1, 1000], "nice": false}, "axis": {"orient": "bottom", "values": [0.1, 1, 10, 100, 1000], "labelExpr": "'10' + ['⁻⁵','⁻⁴','⁻³','⁻²','⁻¹','⁰','¹','²','³'][round(log(datum.value)/LN10)+5]", "title": null}},
  "y": {"field": "v", "type": "quantitative", "scale": {"type": "log", "domain": [8.9e-6, 1202], "nice": false}, "axis": {"values": [1000, 1, 0.01, 0.0001], "labels": false, "title": null}},
  "color": {"field": "method", "type": "nominal", "scale": {"domain": ["VI","NVI","SNVI-0.1","SNVI-0.15","SNVI-0.2","SNVI-0.3","SNVI-0.5","SNVI-0.7"], "range": ["#800080","#6495ED","#CD853F","#FF0000","#008000","#A52A2A","#FFA500","#808080"]}, "legend": {"title": null}}
 },
 "layer": [
  {"data": {"name": "curves"}, "transform": [{"filter": "datum.panel === 'M5' && (datum.method === 'VI' || datum.method === 'NVI')"}], "mark": {"type": "line", "strokeWidth": 2, "clip": true}},
  {"data": {"name": "curves"}, "transform": [{"filter": "datum.panel === 'M5' && datum.method !== 'VI' && datum.method !== 'NVI'"}], "mark": {"type": "line", "strokeWidth": 2, "clip": true, "interpolate": "step-after"}},
  {"data": {"name": "markers"}, "transform": [{"filter": "datum.panel === 'M5'"}], "mark": {"type": "point", "filled": true, "opacity": 1, "size": 160, "clip": true},
   "encoding": {
    "shape": {"field": "method", "type": "nominal", "scale": {"domain": ["VI","NVI","SNVI-0.1","SNVI-0.15","SNVI-0.2","SNVI-0.3","SNVI-0.5","SNVI-0.7"], "range": ["M-1,-0.6L-0.6,-1L0,-0.4L0.6,-1L1,-0.6L0.4,0L1,0.6L0.6,1L0,0.4L-0.6,1L-1,0.6L-0.4,0Z","M1,0A1,1,0,1,1,-1,0A1,1,0,1,1,1,0Z","M0,-1L0.225,-0.309L0.951,-0.309L0.363,0.118L0.588,0.809L0,0.382L-0.588,0.809L-0.363,0.118L-0.951,-0.309L-0.225,-0.309Z","M0,-1.3L1.3,0L0,1.3L-1.3,0Z","M0,-1.1L1.05,0.8L-1.05,0.8Z","M-0.9,-0.9H0.9V0.9H-0.9Z","M0,1.1L1.05,-0.8L-1.05,-0.8Z","M-0.35,-1H0.35V-0.35H1V0.35H0.35V1H-0.35V0.35H-1V-0.35H-0.35Z"]}, "legend": {"title": null}}
   }}
 ]
},
{
 "width": 529, "height": 144,
 "encoding": {
  "x": {"field": "t", "type": "quantitative", "scale": {"type": "log", "domain": [0.1, 1000], "nice": false}, "axis": {"orient": "bottom", "values": [0.1, 1, 10, 100, 1000], "labelExpr": "'10' + ['⁻⁵','⁻⁴','⁻³','⁻²','⁻¹','⁰','¹','²','³'][round(log(datum.value)/LN10)+5]", "title": null}},
  "y": {"field": "v", "type": "quantitative", "scale": {"type": "log", "domain": [1e-5, 1259], "nice": false}, "axis": {"values": [1000, 1, 0.01, 0.0001], "labelExpr": "'10' + ['⁻⁵','⁻⁴','⁻³','⁻²','⁻¹','⁰','¹','²','³'][round(log(datum.value)/LN10)+5]", "title": "||vₜ − v*||∞", "titleFontSize": 24, "titlePadding": 10, "titleY": 84}},
  "color": {"field": "method", "type": "nominal", "scale": {"domain": ["VI","NVI","SNVI-0.1","SNVI-0.15","SNVI-0.2","SNVI-0.3","SNVI-0.5","SNVI-0.7"], "range": ["#800080","#6495ED","#CD853F","#FF0000","#008000","#A52A2A","#FFA500","#808080"]}, "legend": {"title": null}}
 },
 "layer": [
  {"data": {"name": "curves"}, "transform": [{"filter": "datum.panel === 'F8'"}], "mark": {"type": "line", "strokeWidth": 2, "clip": true}},
  {"data": {"name": "markers"}, "transform": [{"filter": "datum.panel === 'F8'"}], "mark": {"type": "point", "filled": true, "opacity": 1, "size": 160, "clip": true},
   "encoding": {
    "x": {"field": "t", "type": "quantitative", "scale": {"type": "log", "domain": [0.1, 1000], "nice": false}, "axis": {"orient": "top", "title": "S = 8000", "labels": false, "ticks": false, "domain": false, "grid": false, "titleX": 541, "titleY": -6, "titleFontSize": 17, "titleFontWeight": "bold", "titleAlign": "center", "titleBaseline": "alphabetic"}},
    "shape": {"field": "method", "type": "nominal", "scale": {"domain": ["VI","NVI","SNVI-0.1","SNVI-0.15","SNVI-0.2","SNVI-0.3","SNVI-0.5","SNVI-0.7"], "range": ["M-1,-0.6L-0.6,-1L0,-0.4L0.6,-1L1,-0.6L0.4,0L1,0.6L0.6,1L0,0.4L-0.6,1L-1,0.6L-0.4,0Z","M1,0A1,1,0,1,1,-1,0A1,1,0,1,1,1,0Z","M0,-1L0.225,-0.309L0.951,-0.309L0.363,0.118L0.588,0.809L0,0.382L-0.588,0.809L-0.363,0.118L-0.951,-0.309L-0.225,-0.309Z","M0,-1.3L1.3,0L0,1.3L-1.3,0Z","M0,-1.1L1.05,0.8L-1.05,0.8Z","M-0.9,-0.9H0.9V0.9H-0.9Z","M0,1.1L1.05,-0.8L-1.05,-0.8Z","M-0.35,-1H0.35V-0.35H1V0.35H0.35V1H-0.35V0.35H-1V-0.35H-0.35Z"]}, "legend": {"title": null}}
   }}
 ]
},
{
 "width": 530, "height": 144,
 "encoding": {
  "x": {"field": "t", "type": "quantitative", "scale": {"type": "log", "domain": [0.1, 1000], "nice": false}, "axis": {"orient": "bottom", "values": [0.1, 1, 10, 100, 1000], "labelExpr": "'10' + ['⁻⁵','⁻⁴','⁻³','⁻²','⁻¹','⁰','¹','²','³'][round(log(datum.value)/LN10)+5]", "title": null}},
  "y": {"field": "v", "type": "quantitative", "scale": {"type": "log", "domain": [1e-5, 1259], "nice": false}, "axis": {"values": [1000, 1, 0.01, 0.0001], "labels": false, "title": null}},
  "color": {"field": "method", "type": "nominal", "scale": {"domain": ["VI","NVI","SNVI-0.1","SNVI-0.15","SNVI-0.2","SNVI-0.3","SNVI-0.5","SNVI-0.7"], "range": ["#800080","#6495ED","#CD853F","#FF0000","#008000","#A52A2A","#FFA500","#808080"]}, "legend": {"title": null}}
 },
 "layer": [
  {"data": {"name": "curves"}, "transform": [{"filter": "datum.panel === 'M8' && (datum.method === 'VI' || datum.method === 'NVI')"}], "mark": {"type": "line", "strokeWidth": 2, "clip": true}},
  {"data": {"name": "curves"}, "transform": [{"filter": "datum.panel === 'M8' && datum.method !== 'VI' && datum.method !== 'NVI'"}], "mark": {"type": "line", "strokeWidth": 2, "clip": true, "interpolate": "step-after"}},
  {"data": {"name": "markers"}, "transform": [{"filter": "datum.panel === 'M8'"}], "mark": {"type": "point", "filled": true, "opacity": 1, "size": 160, "clip": true},
   "encoding": {
    "shape": {"field": "method", "type": "nominal", "scale": {"domain": ["VI","NVI","SNVI-0.1","SNVI-0.15","SNVI-0.2","SNVI-0.3","SNVI-0.5","SNVI-0.7"], "range": ["M-1,-0.6L-0.6,-1L0,-0.4L0.6,-1L1,-0.6L0.4,0L1,0.6L0.6,1L0,0.4L-0.6,1L-1,0.6L-0.4,0Z","M1,0A1,1,0,1,1,-1,0A1,1,0,1,1,1,0Z","M0,-1L0.225,-0.309L0.951,-0.309L0.363,0.118L0.588,0.809L0,0.382L-0.588,0.809L-0.363,0.118L-0.951,-0.309L-0.225,-0.309Z","M0,-1.3L1.3,0L0,1.3L-1.3,0Z","M0,-1.1L1.05,0.8L-1.05,0.8Z","M-0.9,-0.9H0.9V0.9H-0.9Z","M0,1.1L1.05,-0.8L-1.05,-0.8Z","M-0.35,-1H0.35V-0.35H1V0.35H0.35V1H-0.35V0.35H-1V-0.35H-0.35Z"]}, "legend": {"title": null}}
   }}
 ]
},
{
 "width": 529, "height": 144,
 "encoding": {
  "x": {"field": "t", "type": "quantitative", "scale": {"type": "log", "domain": [0.1, 1000], "nice": false}, "axis": {"orient": "bottom", "values": [0.1, 1, 10, 100, 1000], "labelExpr": "'10' + ['⁻⁵','⁻⁴','⁻³','⁻²','⁻¹','⁰','¹','²','³'][round(log(datum.value)/LN10)+5]", "title": "Time/s", "titleFontSize": 22, "titleX": 562, "titleY": 60, "titleAlign": "center", "titleBaseline": "alphabetic"}},
  "y": {"field": "v", "type": "quantitative", "scale": {"type": "log", "domain": [9.1e-6, 1023], "nice": false}, "axis": {"values": [1000, 1, 0.01, 0.0001], "labelExpr": "'10' + ['⁻⁵','⁻⁴','⁻³','⁻²','⁻¹','⁰','¹','²','³'][round(log(datum.value)/LN10)+5]", "title": null}},
  "color": {"field": "method", "type": "nominal", "scale": {"domain": ["VI","NVI","SNVI-0.1","SNVI-0.15","SNVI-0.2","SNVI-0.3","SNVI-0.5","SNVI-0.7"], "range": ["#800080","#6495ED","#CD853F","#FF0000","#008000","#A52A2A","#FFA500","#808080"]}, "legend": {"title": null}}
 },
 "layer": [
  {"data": {"name": "curves"}, "transform": [{"filter": "datum.panel === 'F10'"}], "mark": {"type": "line", "strokeWidth": 2, "clip": true}},
  {"data": {"name": "markers"}, "transform": [{"filter": "datum.panel === 'F10'"}], "mark": {"type": "point", "filled": true, "opacity": 1, "size": 160, "clip": true},
   "encoding": {
    "x": {"field": "t", "type": "quantitative", "scale": {"type": "log", "domain": [0.1, 1000], "nice": false}, "axis": {"orient": "top", "title": "S = 10000", "labels": false, "ticks": false, "domain": false, "grid": false, "titleX": 541, "titleY": -6, "titleFontSize": 17, "titleFontWeight": "bold", "titleAlign": "center", "titleBaseline": "alphabetic"}},
    "shape": {"field": "method", "type": "nominal", "scale": {"domain": ["VI","NVI","SNVI-0.1","SNVI-0.15","SNVI-0.2","SNVI-0.3","SNVI-0.5","SNVI-0.7"], "range": ["M-1,-0.6L-0.6,-1L0,-0.4L0.6,-1L1,-0.6L0.4,0L1,0.6L0.6,1L0,0.4L-0.6,1L-1,0.6L-0.4,0Z","M1,0A1,1,0,1,1,-1,0A1,1,0,1,1,1,0Z","M0,-1L0.225,-0.309L0.951,-0.309L0.363,0.118L0.588,0.809L0,0.382L-0.588,0.809L-0.363,0.118L-0.951,-0.309L-0.225,-0.309Z","M0,-1.3L1.3,0L0,1.3L-1.3,0Z","M0,-1.1L1.05,0.8L-1.05,0.8Z","M-0.9,-0.9H0.9V0.9H-0.9Z","M0,1.1L1.05,-0.8L-1.05,-0.8Z","M-0.35,-1H0.35V-0.35H1V0.35H0.35V1H-0.35V0.35H-1V-0.35H-0.35Z"]}, "legend": {"title": null}}
   }}
 ]
},
{
 "width": 530, "height": 144,
 "encoding": {
  "x": {"field": "t", "type": "quantitative", "scale": {"type": "log", "domain": [0.1, 1000], "nice": false}, "axis": {"orient": "bottom", "values": [0.1, 1, 10, 100, 1000], "labelExpr": "'10' + ['⁻⁵','⁻⁴','⁻³','⁻²','⁻¹','⁰','¹','²','³'][round(log(datum.value)/LN10)+5]", "title": null}},
  "y": {"field": "v", "type": "quantitative", "scale": {"type": "log", "domain": [9.1e-6, 1023], "nice": false}, "axis": {"values": [1000, 1, 0.01, 0.0001], "labels": false, "title": null}},
  "color": {"field": "method", "type": "nominal", "scale": {"domain": ["VI","NVI","SNVI-0.1","SNVI-0.15","SNVI-0.2","SNVI-0.3","SNVI-0.5","SNVI-0.7"], "range": ["#800080","#6495ED","#CD853F","#FF0000","#008000","#A52A2A","#FFA500","#808080"]}, "legend": {"title": null}}
 },
 "layer": [
  {"data": {"name": "curves"}, "transform": [{"filter": "datum.panel === 'M10' && (datum.method === 'VI' || datum.method === 'NVI')"}], "mark": {"type": "line", "strokeWidth": 2, "clip": true}},
  {"data": {"name": "curves"}, "transform": [{"filter": "datum.panel === 'M10' && datum.method !== 'VI' && datum.method !== 'NVI'"}], "mark": {"type": "line", "strokeWidth": 2, "clip": true, "interpolate": "step-after"}},
  {"data": {"name": "markers"}, "transform": [{"filter": "datum.panel === 'M10'"}], "mark": {"type": "point", "filled": true, "opacity": 1, "size": 160, "clip": true},
   "encoding": {
    "shape": {"field": "method", "type": "nominal", "scale": {"domain": ["VI","NVI","SNVI-0.1","SNVI-0.15","SNVI-0.2","SNVI-0.3","SNVI-0.5","SNVI-0.7"], "range": ["M-1,-0.6L-0.6,-1L0,-0.4L0.6,-1L1,-0.6L0.4,0L1,0.6L0.6,1L0,0.4L-0.6,1L-1,0.6L-0.4,0Z","M1,0A1,1,0,1,1,-1,0A1,1,0,1,1,1,0Z","M0,-1L0.225,-0.309L0.951,-0.309L0.363,0.118L0.588,0.809L0,0.382L-0.588,0.809L-0.363,0.118L-0.951,-0.309L-0.225,-0.309Z","M0,-1.3L1.3,0L0,1.3L-1.3,0Z","M0,-1.1L1.05,0.8L-1.05,0.8Z","M-0.9,-0.9H0.9V0.9H-0.9Z","M0,1.1L1.05,-0.8L-1.05,-0.8Z","M-0.35,-1H0.35V-0.35H1V0.35H0.35V1H-0.35V0.35H-1V-0.35H-0.35Z"]}, "legend": {"title": null}}
   }}
 ]
}
]
}
